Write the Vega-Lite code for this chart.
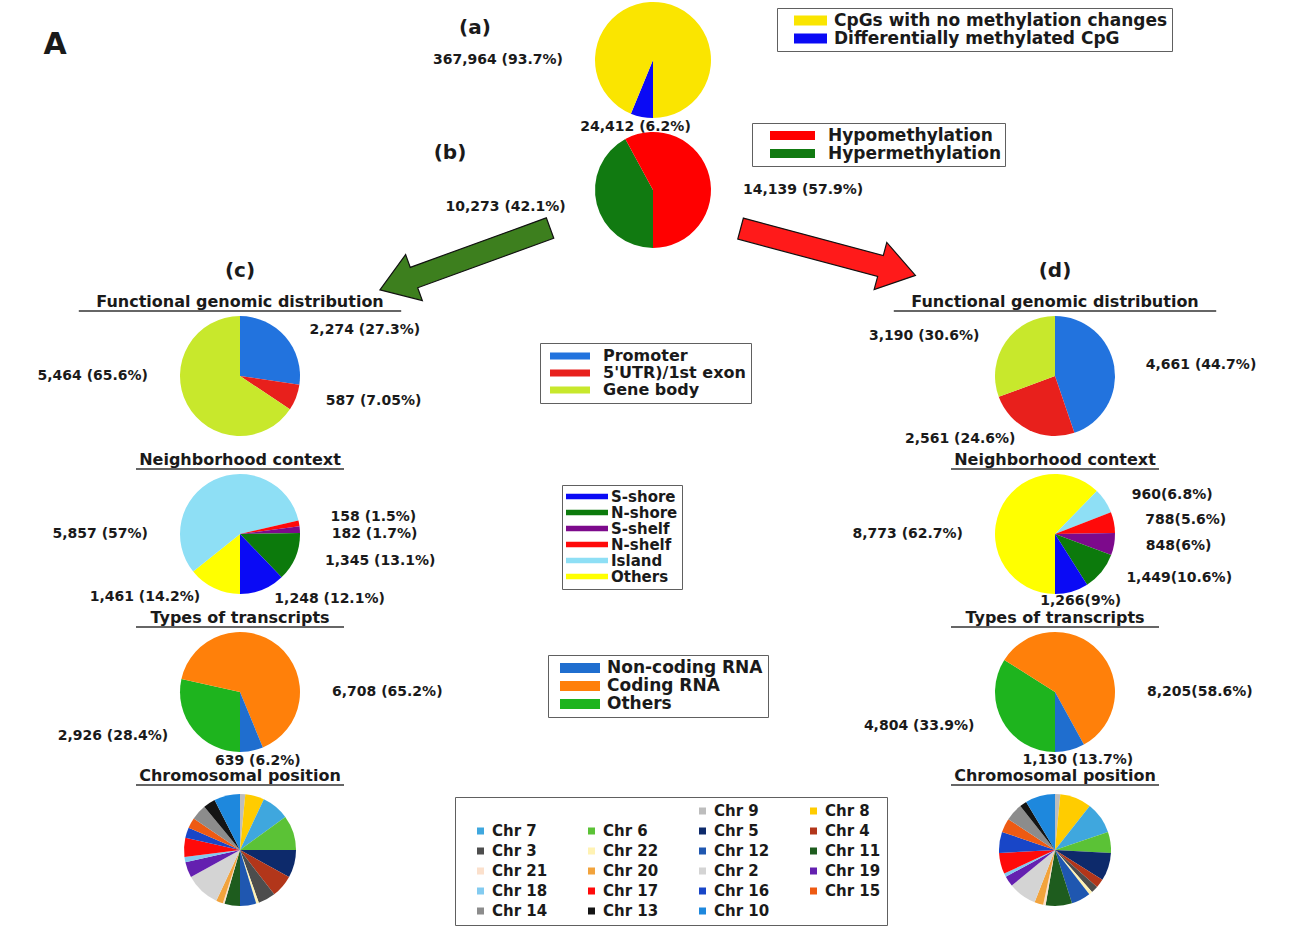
{
  "$schema": "https://vega.github.io/schema/vega-lite/v6.json",
  "width": 1306,
  "height": 928,
  "autosize": {"type": "none"},
  "padding": 0,
  "background": "white",
  "config": {
    "view": {"stroke": null},
    "text": {"font": "DejaVu Sans", "fontWeight": "bold", "fontSize": 14, "color": "#1a1a1a"},
    "legend": {"labelFont": "DejaVu Sans", "labelFontWeight": "bold", "labelColor": "#1a1a1a", "strokeColor": "#606060", "fillColor": "white", "labelLimit": 600, "symbolStrokeWidth": 0, "orient": "none"}
  },
  "datasets": {
    "pies": [
      {"panel": "(a)", "level": "(a)", "category": "Differentially methylated CpG", "count": 24412, "label": "24,412 (6.2%)"},
      {"panel": "(a)", "level": "(a)", "category": "CpGs with no methylation changes", "count": 367964, "label": "367,964 (93.7%)"},
      {"panel": "(b)", "level": "(b)", "category": "Hypermethylation", "count": 10273, "label": "10,273 (42.1%)"},
      {"panel": "(b)", "level": "(b)", "category": "Hypomethylation", "count": 14139, "label": "14,139 (57.9%)"},
      {"panel": "(c)", "level": "Functional genomic distribution", "category": "Promoter", "count": 2274, "label": "2,274 (27.3%)"},
      {"panel": "(c)", "level": "Functional genomic distribution", "category": "5'UTR)/1st exon", "count": 587, "label": "587 (7.05%)"},
      {"panel": "(c)", "level": "Functional genomic distribution", "category": "Gene body", "count": 5464, "label": "5,464 (65.6%)"},
      {"panel": "(d)", "level": "Functional genomic distribution", "category": "Promoter", "count": 4661, "label": "4,661 (44.7%)"},
      {"panel": "(d)", "level": "Functional genomic distribution", "category": "5'UTR)/1st exon", "count": 2561, "label": "2,561 (24.6%)"},
      {"panel": "(d)", "level": "Functional genomic distribution", "category": "Gene body", "count": 3190, "label": "3,190 (30.6%)"},
      {"panel": "(c)", "level": "Neighborhood context", "category": "Others", "count": 1461, "label": "1,461 (14.2%)"},
      {"panel": "(c)", "level": "Neighborhood context", "category": "Island", "count": 5857, "label": "5,857 (57%)"},
      {"panel": "(c)", "level": "Neighborhood context", "category": "N-shelf", "count": 158, "label": "158 (1.5%)"},
      {"panel": "(c)", "level": "Neighborhood context", "category": "S-shelf", "count": 182, "label": "182 (1.7%)"},
      {"panel": "(c)", "level": "Neighborhood context", "category": "N-shore", "count": 1345, "label": "1,345 (13.1%)"},
      {"panel": "(c)", "level": "Neighborhood context", "category": "S-shore", "count": 1248, "label": "1,248 (12.1%)"},
      {"panel": "(d)", "level": "Neighborhood context", "category": "Others", "count": 8773, "label": "8,773 (62.7%)"},
      {"panel": "(d)", "level": "Neighborhood context", "category": "Island", "count": 960, "label": "960(6.8%)"},
      {"panel": "(d)", "level": "Neighborhood context", "category": "N-shelf", "count": 788, "label": "788(5.6%)"},
      {"panel": "(d)", "level": "Neighborhood context", "category": "S-shelf", "count": 848, "label": "848(6%)"},
      {"panel": "(d)", "level": "Neighborhood context", "category": "N-shore", "count": 1449, "label": "1,449(10.6%)"},
      {"panel": "(d)", "level": "Neighborhood context", "category": "S-shore", "count": 1266, "label": "1,266(9%)"},
      {"panel": "(c)", "level": "Types of transcripts", "category": "Others", "count": 2926, "label": "2,926 (28.4%)"},
      {"panel": "(c)", "level": "Types of transcripts", "category": "Coding RNA", "count": 6708, "label": "6,708 (65.2%)"},
      {"panel": "(c)", "level": "Types of transcripts", "category": "Non-coding RNA", "count": 639, "label": "639 (6.2%)"},
      {"panel": "(d)", "level": "Types of transcripts", "category": "Others", "count": 4804, "label": "4,804 (33.9%)"},
      {"panel": "(d)", "level": "Types of transcripts", "category": "Coding RNA", "count": 8205, "label": "8,205(58.6%)"},
      {"panel": "(d)", "level": "Types of transcripts", "category": "Non-coding RNA", "count": 1130, "label": "1,130 (13.7%)"},
      {"panel": "(c)", "level": "Chromosomal position", "category": "Chr 9", "count": 155},
      {"panel": "(c)", "level": "Chromosomal position", "category": "Chr 8", "count": 565},
      {"panel": "(c)", "level": "Chromosomal position", "category": "Chr 7", "count": 820},
      {"panel": "(c)", "level": "Chromosomal position", "category": "Chr 6", "count": 1030},
      {"panel": "(c)", "level": "Chromosomal position", "category": "Chr 5", "count": 820},
      {"panel": "(c)", "level": "Chromosomal position", "category": "Chr 4", "count": 670},
      {"panel": "(c)", "level": "Chromosomal position", "category": "Chr 3", "count": 515},
      {"panel": "(c)", "level": "Chromosomal position", "category": "Chr 22", "count": 80},
      {"panel": "(c)", "level": "Chromosomal position", "category": "Chr 12", "count": 480},
      {"panel": "(c)", "level": "Chromosomal position", "category": "Chr 11", "count": 460},
      {"panel": "(c)", "level": "Chromosomal position", "category": "Chr 21", "count": 50},
      {"panel": "(c)", "level": "Chromosomal position", "category": "Chr 20", "count": 205},
      {"panel": "(c)", "level": "Chromosomal position", "category": "Chr 2", "count": 1030},
      {"panel": "(c)", "level": "Chromosomal position", "category": "Chr 19", "count": 460},
      {"panel": "(c)", "level": "Chromosomal position", "category": "Chr 18", "count": 155},
      {"panel": "(c)", "level": "Chromosomal position", "category": "Chr 17", "count": 565},
      {"panel": "(c)", "level": "Chromosomal position", "category": "Chr 16", "count": 310},
      {"panel": "(c)", "level": "Chromosomal position", "category": "Chr 15", "count": 310},
      {"panel": "(c)", "level": "Chromosomal position", "category": "Chr 14", "count": 460},
      {"panel": "(c)", "level": "Chromosomal position", "category": "Chr 13", "count": 360},
      {"panel": "(c)", "level": "Chromosomal position", "category": "Chr 10", "count": 770},
      {"panel": "(d)", "level": "Chromosomal position", "category": "Chr 9", "count": 212},
      {"panel": "(d)", "level": "Chromosomal position", "category": "Chr 8", "count": 1273},
      {"panel": "(d)", "level": "Chromosomal position", "category": "Chr 7", "count": 1273},
      {"panel": "(d)", "level": "Chromosomal position", "category": "Chr 6", "count": 848},
      {"panel": "(d)", "level": "Chromosomal position", "category": "Chr 5", "count": 1131},
      {"panel": "(d)", "level": "Chromosomal position", "category": "Chr 4", "count": 354},
      {"panel": "(d)", "level": "Chromosomal position", "category": "Chr 3", "count": 283},
      {"panel": "(d)", "level": "Chromosomal position", "category": "Chr 22", "count": 141},
      {"panel": "(d)", "level": "Chromosomal position", "category": "Chr 12", "count": 778},
      {"panel": "(d)", "level": "Chromosomal position", "category": "Chr 11", "count": 1060},
      {"panel": "(d)", "level": "Chromosomal position", "category": "Chr 21", "count": 99},
      {"panel": "(d)", "level": "Chromosomal position", "category": "Chr 20", "count": 354},
      {"panel": "(d)", "level": "Chromosomal position", "category": "Chr 2", "count": 1131},
      {"panel": "(d)", "level": "Chromosomal position", "category": "Chr 19", "count": 424},
      {"panel": "(d)", "level": "Chromosomal position", "category": "Chr 18", "count": 141},
      {"panel": "(d)", "level": "Chromosomal position", "category": "Chr 17", "count": 848},
      {"panel": "(d)", "level": "Chromosomal position", "category": "Chr 16", "count": 848},
      {"panel": "(d)", "level": "Chromosomal position", "category": "Chr 15", "count": 566},
      {"panel": "(d)", "level": "Chromosomal position", "category": "Chr 14", "count": 707},
      {"panel": "(d)", "level": "Chromosomal position", "category": "Chr 13", "count": 283},
      {"panel": "(d)", "level": "Chromosomal position", "category": "Chr 10", "count": 1202}
    ]
  },
  "resolve": {"scale": {"color": "independent", "theta": "independent"}},
  "layer": [
    {
      "data": {"name": "pies"},
      "transform": [{"filter": "datum.panel == '(a)'"}, {"window": [{"op": "row_number", "as": "slice"}]}],
      "encoding": {
        "y": {"field": "level", "type": "nominal", "axis": null, "scale": {"type": "point", "domain": ["(a)", "(b)", "Functional genomic distribution", "Neighborhood context", "Types of transcripts", "Chromosomal position"], "range": [60, 850], "padding": 0}},
        "theta": {"field": "count", "type": "quantitative", "stack": "normalize", "scale": {"range": [3.14159, 9.42478]}},
        "order": {"field": "slice", "type": "quantitative"}
      },
      "layer": [
        {
          "mark": {"type": "arc", "radius": 58},
          "encoding": {
            "color": {"field": "category", "type": "nominal", "scale": {"domain": ["CpGs with no methylation changes", "Differentially methylated CpG"], "range": ["#FAE500", "#0A0AF5"]},
              "legend": {"title": null, "orient": "none", "legendX": 777, "legendY": 8, "symbolType": "M-1,-0.3H1V0.3H-1Z", "symbolSize": 1089, "symbolOffset": 13, "labelOffset": 7, "labelFontSize": 17, "clipHeight": 17, "rowPadding": 0, "padding": 4}}
          }
        },
        {
          "mark": {"type": "text",
            "dx": {"expr": "90*sin((datum.count_end-datum.count_start)>0.5?3*PI/2:PI*(1+datum.count_start+datum.count_end))"},
            "dy": {"expr": "-68*cos((datum.count_end-datum.count_start)>0.5?3*PI/2:PI*(1+datum.count_start+datum.count_end))"},
            "align": {"expr": "abs(sin((datum.count_end-datum.count_start)>0.5?3*PI/2:PI*(1+datum.count_start+datum.count_end)))<0.3?'center':(sin((datum.count_end-datum.count_start)>0.5?3*PI/2:PI*(1+datum.count_start+datum.count_end))>0?'left':'right')"}},
          "encoding": {
            "detail": {"field": "category", "type": "nominal"},
            "text": {"field": "label", "type": "nominal"}
          }
        }
      ]
    },
    {
      "data": {"name": "pies"},
      "transform": [{"filter": "datum.panel == '(b)'"}, {"window": [{"op": "row_number", "as": "slice"}]}],
      "encoding": {
        "y": {"field": "level", "type": "nominal", "axis": null, "scale": {"type": "point", "domain": ["(a)", "(b)", "Functional genomic distribution", "Neighborhood context", "Types of transcripts", "Chromosomal position"], "range": [60, 850], "padding": 0}},
        "theta": {"field": "count", "type": "quantitative", "stack": "normalize", "scale": {"range": [3.14159, 9.42478]}},
        "order": {"field": "slice", "type": "quantitative"}
      },
      "layer": [
        {
          "mark": {"type": "arc", "radius": 58, "yOffset": -28},
          "encoding": {
            "color": {"field": "category", "type": "nominal", "scale": {"domain": ["Hypomethylation", "Hypermethylation"], "range": ["#FF0000", "#117A11"]},
              "legend": {"title": null, "orient": "none", "legendX": 752, "legendY": 123, "symbolType": "M-1,-0.2H1V0.2H-1Z", "symbolSize": 2025, "symbolOffset": 14, "labelOffset": 13, "labelFontSize": 17, "clipHeight": 17, "rowPadding": 0, "padding": 4}}
          }
        },
        {
          "mark": {"type": "text", "yOffset": -28,
            "dx": {"expr": "90*sin((datum.count_end-datum.count_start)>0.5?(sin(PI*(1+datum.count_start+datum.count_end))>=0?PI/2:3*PI/2):PI*(1+datum.count_start+datum.count_end))"},
            "dy": {"expr": "-68*cos((datum.count_end-datum.count_start)>0.5?(sin(PI*(1+datum.count_start+datum.count_end))>=0?PI/2:3*PI/2):PI*(1+datum.count_start+datum.count_end))"},
            "align": {"expr": "abs(sin((datum.count_end-datum.count_start)>0.5?(sin(PI*(1+datum.count_start+datum.count_end))>=0?PI/2:3*PI/2):PI*(1+datum.count_start+datum.count_end)))<0.3?'center':(sin((datum.count_end-datum.count_start)>0.5?(sin(PI*(1+datum.count_start+datum.count_end))>=0?PI/2:3*PI/2):PI*(1+datum.count_start+datum.count_end))>0?'left':'right')"}},
          "encoding": {
            "detail": {"field": "category", "type": "nominal"},
            "text": {"field": "label", "type": "nominal"}
          }
        }
      ]
    },
    {
      "data": {"name": "pies"},
      "transform": [{"filter": "datum.level == 'Functional genomic distribution'"}],
      "encoding": {
        "x": {"field": "panel", "type": "nominal", "axis": null, "scale": {"type": "point", "domain": ["(c)", "(d)"], "range": [240, 1055], "padding": 0}},
        "y": {"field": "level", "type": "nominal", "axis": null, "scale": {"type": "point", "domain": ["(a)", "(b)", "Functional genomic distribution", "Neighborhood context", "Types of transcripts", "Chromosomal position"], "range": [60, 850], "padding": 0}},
        "theta": {"field": "count", "type": "quantitative", "stack": "normalize", "scale": {"range": [0, 6.28318]}},
        "order": {"field": "slice", "type": "quantitative"}
      },
      "layer": [
        {
          "transform": [{"filter": "datum.panel == '(c)'"}, {"window": [{"op": "row_number", "as": "slice"}]}],
          "mark": {"type": "arc", "radius": 60},
          "encoding": {
            "color": {"field": "category", "type": "nominal", "scale": {"domain": ["Promoter", "5'UTR)/1st exon", "Gene body"], "range": ["#2273DE", "#E8201C", "#C8E82C"]},
              "legend": {"title": null, "orient": "none", "legendX": 540, "legendY": 343, "symbolType": "M-1,-0.18H1V0.18H-1Z", "symbolSize": 1600, "symbolOffset": 5, "labelOffset": 13, "labelFontSize": 16, "clipHeight": 16, "rowPadding": 1, "padding": 5}}
          }
        },
        {
          "transform": [{"filter": "datum.panel == '(d)'"}, {"window": [{"op": "row_number", "as": "slice"}]}],
          "mark": {"type": "arc", "radius": 60},
          "encoding": {
            "color": {"field": "category", "type": "nominal", "scale": {"domain": ["Promoter", "5'UTR)/1st exon", "Gene body"], "range": ["#2273DE", "#E8201C", "#C8E82C"]},
              "legend": {"title": null, "orient": "none", "legendX": 540, "legendY": 343, "symbolType": "M-1,-0.18H1V0.18H-1Z", "symbolSize": 1600, "symbolOffset": 5, "labelOffset": 13, "labelFontSize": 16, "clipHeight": 16, "rowPadding": 1, "padding": 5}}
          }
        },
        {
          "transform": [{"filter": "datum.panel == '(c)'"}, {"window": [{"op": "row_number", "as": "slice"}]}],
          "mark": {"type": "text",
            "dx": {"expr": "92*sin((datum.count_end-datum.count_start)>0.5?(sin(PI*(datum.count_start+datum.count_end))>=0?PI/2:3*PI/2):PI*(datum.count_start+datum.count_end))"},
            "dy": {"expr": "-70*cos((datum.count_end-datum.count_start)>0.5?(sin(PI*(datum.count_start+datum.count_end))>=0?PI/2:3*PI/2):PI*(datum.count_start+datum.count_end))"},
            "align": {"expr": "abs(sin((datum.count_end-datum.count_start)>0.5?(sin(PI*(datum.count_start+datum.count_end))>=0?PI/2:3*PI/2):PI*(datum.count_start+datum.count_end)))<0.3?'center':(sin((datum.count_end-datum.count_start)>0.5?(sin(PI*(datum.count_start+datum.count_end))>=0?PI/2:3*PI/2):PI*(datum.count_start+datum.count_end))>0?'left':'right')"}},
          "encoding": {"detail": {"field": "category", "type": "nominal"}, "text": {"field": "label", "type": "nominal"}}
        },
        {
          "transform": [{"filter": "datum.panel == '(d)'"}, {"window": [{"op": "row_number", "as": "slice"}]}],
          "mark": {"type": "text",
            "dx": {"expr": "92*sin((datum.count_end-datum.count_start)>0.5?(sin(PI*(datum.count_start+datum.count_end))>=0?PI/2:3*PI/2):PI*(datum.count_start+datum.count_end))"},
            "dy": {"expr": "-70*cos((datum.count_end-datum.count_start)>0.5?(sin(PI*(datum.count_start+datum.count_end))>=0?PI/2:3*PI/2):PI*(datum.count_start+datum.count_end))"},
            "align": {"expr": "abs(sin((datum.count_end-datum.count_start)>0.5?(sin(PI*(datum.count_start+datum.count_end))>=0?PI/2:3*PI/2):PI*(datum.count_start+datum.count_end)))<0.3?'center':(sin((datum.count_end-datum.count_start)>0.5?(sin(PI*(datum.count_start+datum.count_end))>=0?PI/2:3*PI/2):PI*(datum.count_start+datum.count_end))>0?'left':'right')"}},
          "encoding": {"detail": {"field": "category", "type": "nominal"}, "text": {"field": "label", "type": "nominal"}}
        }
      ]
    },
    {
      "data": {"name": "pies"},
      "transform": [{"filter": "datum.level == 'Neighborhood context'"}],
      "encoding": {
        "x": {"field": "panel", "type": "nominal", "axis": null, "scale": {"type": "point", "domain": ["(c)", "(d)"], "range": [240, 1055], "padding": 0}},
        "y": {"field": "level", "type": "nominal", "axis": null, "scale": {"type": "point", "domain": ["(a)", "(b)", "Functional genomic distribution", "Neighborhood context", "Types of transcripts", "Chromosomal position"], "range": [60, 850], "padding": 0}},
        "theta": {"field": "count", "type": "quantitative", "stack": "normalize", "scale": {"range": [3.14159, 9.42478]}},
        "order": {"field": "slice", "type": "quantitative"}
      },
      "layer": [
        {
          "transform": [{"filter": "datum.panel == '(c)'"}, {"window": [{"op": "row_number", "as": "slice"}]}],
          "mark": {"type": "arc", "radius": 60},
          "encoding": {
            "color": {"field": "category", "type": "nominal", "scale": {"domain": ["S-shore", "N-shore", "S-shelf", "N-shelf", "Island", "Others"], "range": ["#0A0AF5", "#0C7A0C", "#7D0A8C", "#FF0A0A", "#8EDFF5", "#FFFF00"]},
              "legend": {"title": null, "orient": "none", "legendX": 562, "legendY": 485, "symbolType": "M-1,-0.13H1V0.13H-1Z", "symbolSize": 1764, "symbolOffset": 0, "labelOffset": 3, "labelFontSize": 15, "clipHeight": 15, "rowPadding": 0, "padding": 4}}
          }
        },
        {
          "transform": [{"filter": "datum.panel == '(d)'"}, {"window": [{"op": "row_number", "as": "slice"}]}],
          "mark": {"type": "arc", "radius": 60},
          "encoding": {
            "color": {"field": "category", "type": "nominal", "scale": {"domain": ["S-shore", "N-shore", "S-shelf", "N-shelf", "Island", "Others"], "range": ["#0A0AF5", "#0C7A0C", "#7D0A8C", "#FF0A0A", "#8EDFF5", "#FFFF00"]},
              "legend": {"title": null, "orient": "none", "legendX": 562, "legendY": 485, "symbolType": "M-1,-0.13H1V0.13H-1Z", "symbolSize": 1764, "symbolOffset": 0, "labelOffset": 3, "labelFontSize": 15, "clipHeight": 15, "rowPadding": 0, "padding": 4}}
          }
        },
        {
          "transform": [{"filter": "datum.panel == '(c)'"}, {"window": [{"op": "row_number", "as": "slice"}]}],
          "mark": {"type": "text",
            "dx": {"expr": "92*sin((datum.count_end-datum.count_start)>0.5?(sin(PI*(1+datum.count_start+datum.count_end))>=0?PI/2:3*PI/2):PI*(1+datum.count_start+datum.count_end))"},
            "dy": {"expr": "-70*cos((datum.count_end-datum.count_start)>0.5?(sin(PI*(1+datum.count_start+datum.count_end))>=0?PI/2:3*PI/2):PI*(1+datum.count_start+datum.count_end))+((datum.count_end-datum.count_start)<0.0165?-5:((datum.count_end-datum.count_start)<0.02?5:0))"},
            "align": {"expr": "abs(sin((datum.count_end-datum.count_start)>0.5?(sin(PI*(1+datum.count_start+datum.count_end))>=0?PI/2:3*PI/2):PI*(1+datum.count_start+datum.count_end)))<0.3?'center':(sin((datum.count_end-datum.count_start)>0.5?(sin(PI*(1+datum.count_start+datum.count_end))>=0?PI/2:3*PI/2):PI*(1+datum.count_start+datum.count_end))>0?'left':'right')"}},
          "encoding": {"detail": {"field": "category", "type": "nominal"}, "text": {"field": "label", "type": "nominal"}}
        },
        {
          "transform": [{"filter": "datum.panel == '(d)'"}, {"window": [{"op": "row_number", "as": "slice"}]}],
          "mark": {"type": "text",
            "dx": {"expr": "92*sin((datum.count_end-datum.count_start)>0.5?(sin(PI*(1+datum.count_start+datum.count_end))>=0?PI/2:3*PI/2):PI*(1+datum.count_start+datum.count_end))"},
            "dy": {"expr": "-70*cos((datum.count_end-datum.count_start)>0.5?(sin(PI*(1+datum.count_start+datum.count_end))>=0?PI/2:3*PI/2):PI*(1+datum.count_start+datum.count_end))"},
            "align": {"expr": "abs(sin((datum.count_end-datum.count_start)>0.5?(sin(PI*(1+datum.count_start+datum.count_end))>=0?PI/2:3*PI/2):PI*(1+datum.count_start+datum.count_end)))<0.3?'center':(sin((datum.count_end-datum.count_start)>0.5?(sin(PI*(1+datum.count_start+datum.count_end))>=0?PI/2:3*PI/2):PI*(1+datum.count_start+datum.count_end))>0?'left':'right')"}},
          "encoding": {"detail": {"field": "category", "type": "nominal"}, "text": {"field": "label", "type": "nominal"}}
        }
      ]
    },
    {
      "data": {"name": "pies"},
      "transform": [{"filter": "datum.level == 'Types of transcripts'"}],
      "encoding": {
        "x": {"field": "panel", "type": "nominal", "axis": null, "scale": {"type": "point", "domain": ["(c)", "(d)"], "range": [240, 1055], "padding": 0}},
        "y": {"field": "level", "type": "nominal", "axis": null, "scale": {"type": "point", "domain": ["(a)", "(b)", "Functional genomic distribution", "Neighborhood context", "Types of transcripts", "Chromosomal position"], "range": [60, 850], "padding": 0}},
        "theta": {"field": "count", "type": "quantitative", "stack": "normalize", "scale": {"range": [3.14159, 9.42478]}},
        "order": {"field": "slice", "type": "quantitative"}
      },
      "layer": [
        {
          "transform": [{"filter": "datum.panel == '(c)'"}, {"window": [{"op": "row_number", "as": "slice"}]}],
          "mark": {"type": "arc", "radius": 60},
          "encoding": {
            "color": {"field": "category", "type": "nominal", "scale": {"domain": ["Non-coding RNA", "Coding RNA", "Others"], "range": ["#1F6ECF", "#FF800A", "#1EB41E"]},
              "legend": {"title": null, "orient": "none", "legendX": 548, "legendY": 655, "symbolType": "M-1,-0.25H1V0.25H-1Z", "symbolSize": 1600, "symbolOffset": 7, "labelOffset": 7, "labelFontSize": 17, "clipHeight": 16, "rowPadding": 1, "padding": 5}}
          }
        },
        {
          "transform": [{"filter": "datum.panel == '(d)'"}, {"window": [{"op": "row_number", "as": "slice"}]}],
          "mark": {"type": "arc", "radius": 60},
          "encoding": {
            "color": {"field": "category", "type": "nominal", "scale": {"domain": ["Non-coding RNA", "Coding RNA", "Others"], "range": ["#1F6ECF", "#FF800A", "#1EB41E"]},
              "legend": {"title": null, "orient": "none", "legendX": 548, "legendY": 655, "symbolType": "M-1,-0.25H1V0.25H-1Z", "symbolSize": 1600, "symbolOffset": 7, "labelOffset": 7, "labelFontSize": 17, "clipHeight": 16, "rowPadding": 1, "padding": 5}}
          }
        },
        {
          "transform": [{"filter": "datum.panel == '(c)'"}, {"window": [{"op": "row_number", "as": "slice"}]}],
          "mark": {"type": "text",
            "dx": {"expr": "92*sin((datum.count_end-datum.count_start)>0.5?(sin(PI*(1+datum.count_start+datum.count_end))>=0?PI/2:3*PI/2):PI*(1+datum.count_start+datum.count_end))"},
            "dy": {"expr": "-70*cos((datum.count_end-datum.count_start)>0.5?(sin(PI*(1+datum.count_start+datum.count_end))>=0?PI/2:3*PI/2):PI*(1+datum.count_start+datum.count_end))"},
            "align": {"expr": "abs(sin((datum.count_end-datum.count_start)>0.5?(sin(PI*(1+datum.count_start+datum.count_end))>=0?PI/2:3*PI/2):PI*(1+datum.count_start+datum.count_end)))<0.3?'center':(sin((datum.count_end-datum.count_start)>0.5?(sin(PI*(1+datum.count_start+datum.count_end))>=0?PI/2:3*PI/2):PI*(1+datum.count_start+datum.count_end))>0?'left':'right')"}},
          "encoding": {"detail": {"field": "category", "type": "nominal"}, "text": {"field": "label", "type": "nominal"}}
        },
        {
          "transform": [{"filter": "datum.panel == '(d)'"}, {"window": [{"op": "row_number", "as": "slice"}]}],
          "mark": {"type": "text",
            "dx": {"expr": "92*sin((datum.count_end-datum.count_start)>0.5?(sin(PI*(1+datum.count_start+datum.count_end))>=0?PI/2:3*PI/2):PI*(1+datum.count_start+datum.count_end))"},
            "dy": {"expr": "-70*cos((datum.count_end-datum.count_start)>0.5?(sin(PI*(1+datum.count_start+datum.count_end))>=0?PI/2:3*PI/2):PI*(1+datum.count_start+datum.count_end))"},
            "align": {"expr": "abs(sin((datum.count_end-datum.count_start)>0.5?(sin(PI*(1+datum.count_start+datum.count_end))>=0?PI/2:3*PI/2):PI*(1+datum.count_start+datum.count_end)))<0.3?'center':(sin((datum.count_end-datum.count_start)>0.5?(sin(PI*(1+datum.count_start+datum.count_end))>=0?PI/2:3*PI/2):PI*(1+datum.count_start+datum.count_end))>0?'left':'right')"}},
          "encoding": {"detail": {"field": "category", "type": "nominal"}, "text": {"field": "label", "type": "nominal"}}
        }
      ]
    },
    {
      "data": {"name": "pies"},
      "transform": [{"filter": "datum.level == 'Chromosomal position'"}],
      "encoding": {
        "x": {"field": "panel", "type": "nominal", "axis": null, "scale": {"type": "point", "domain": ["(c)", "(d)"], "range": [240, 1055], "padding": 0}},
        "y": {"field": "level", "type": "nominal", "axis": null, "scale": {"type": "point", "domain": ["(a)", "(b)", "Functional genomic distribution", "Neighborhood context", "Types of transcripts", "Chromosomal position"], "range": [60, 850], "padding": 0}},
        "theta": {"field": "count", "type": "quantitative", "stack": "normalize", "scale": {"range": [0, 6.28318]}},
        "order": {"field": "slice", "type": "quantitative"}
      },
      "layer": [
        {
          "transform": [{"filter": "datum.panel == '(c)'"}, {"window": [{"op": "row_number", "as": "slice"}]}],
          "mark": {"type": "arc", "radius": 56},
          "encoding": {
            "color": {"field": "category", "type": "nominal",
              "scale": {"domain": ["", " ", "Chr 9", "Chr 8", "Chr 7", "Chr 6", "Chr 5", "Chr 4", "Chr 3", "Chr 22", "Chr 12", "Chr 11", "Chr 21", "Chr 20", "Chr 2", "Chr 19", "Chr 18", "Chr 17", "Chr 16", "Chr 15", "Chr 14", "Chr 13", "Chr 10"],
                "range": ["rgba(0,0,0,0)", "rgba(0,0,0,0)", "#BDBDBD", "#FFCC00", "#3FA7DE", "#5BC236", "#0D2A6B", "#B2361A", "#4D4D4D", "#FFF2B3", "#1F57B0", "#1E5C1E", "#FBE0CC", "#F2A33C", "#D4D4D4", "#6420B0", "#83CBF0", "#FF0A0A", "#1846C8", "#EE5A12", "#8C8C8C", "#141414", "#1E88DD"]},
              "legend": {"title": null, "orient": "none", "legendX": 455, "legendY": 797, "columns": 4, "direction": "horizontal", "symbolType": "square", "symbolSize": 49, "symbolOffset": 12, "labelOffset": 4, "labelFontSize": 15, "clipHeight": 16, "rowPadding": 4, "columnPadding": 24, "gridAlign": "all", "padding": 6}}
          }
        },
        {
          "transform": [{"filter": "datum.panel == '(d)'"}, {"window": [{"op": "row_number", "as": "slice"}]}],
          "mark": {"type": "arc", "radius": 56},
          "encoding": {
            "color": {"field": "category", "type": "nominal",
              "scale": {"domain": ["", " ", "Chr 9", "Chr 8", "Chr 7", "Chr 6", "Chr 5", "Chr 4", "Chr 3", "Chr 22", "Chr 12", "Chr 11", "Chr 21", "Chr 20", "Chr 2", "Chr 19", "Chr 18", "Chr 17", "Chr 16", "Chr 15", "Chr 14", "Chr 13", "Chr 10"],
                "range": ["rgba(0,0,0,0)", "rgba(0,0,0,0)", "#BDBDBD", "#FFCC00", "#3FA7DE", "#5BC236", "#0D2A6B", "#B2361A", "#4D4D4D", "#FFF2B3", "#1F57B0", "#1E5C1E", "#FBE0CC", "#F2A33C", "#D4D4D4", "#6420B0", "#83CBF0", "#FF0A0A", "#1846C8", "#EE5A12", "#8C8C8C", "#141414", "#1E88DD"]},
              "legend": {"title": null, "orient": "none", "legendX": 455, "legendY": 797, "columns": 4, "direction": "horizontal", "symbolType": "square", "symbolSize": 49, "symbolOffset": 12, "labelOffset": 4, "labelFontSize": 15, "clipHeight": 16, "rowPadding": 4, "columnPadding": 24, "gridAlign": "all", "padding": 6}}
          }
        }
      ]
    },
    {
      "data": {"name": "pies"},
      "transform": [{"filter": "datum.panel == '(c)' || datum.panel == '(d)'"}, {"aggregate": [{"op": "count", "as": "n"}], "groupby": ["panel", "level"]}],
      "encoding": {
        "x": {"field": "panel", "type": "nominal", "axis": null, "scale": {"type": "point", "domain": ["(c)", "(d)"], "range": [240, 1055], "padding": 0}},
        "y": {"field": "level", "type": "nominal", "axis": null, "scale": {"type": "point", "domain": ["(a)", "(b)", "Functional genomic distribution", "Neighborhood context", "Types of transcripts", "Chromosomal position"], "range": [60, 850], "padding": 0}}
      },
      "layer": [
        {"mark": {"type": "text", "dy": -74, "fontSize": 16}, "encoding": {"text": {"field": "level", "type": "nominal"}}},
        {"mark": {"type": "rule", "yOffset": -65, "xOffset": {"expr": "-5.2*length(datum.level)"}, "x2Offset": {"expr": "5.2*length(datum.level)"}, "strokeWidth": 1.5, "color": "#333333"}, "encoding": {"x2": {"field": "panel"}}}
      ]
    },
    {
      "data": {"name": "pies"},
      "transform": [{"filter": "datum.panel == '(c)' || datum.panel == '(d)'"}, {"aggregate": [{"op": "count", "as": "n"}], "groupby": ["panel"]}],
      "mark": {"type": "text", "dy": -105, "fontSize": 20},
      "encoding": {
        "x": {"field": "panel", "type": "nominal", "axis": null, "scale": {"type": "point", "domain": ["(c)", "(d)"], "range": [240, 1055], "padding": 0}},
        "y": {"datum": "Functional genomic distribution", "type": "nominal", "axis": null, "scale": {"type": "point", "domain": ["(a)", "(b)", "Functional genomic distribution", "Neighborhood context", "Types of transcripts", "Chromosomal position"], "range": [60, 850], "padding": 0}},
        "text": {"field": "panel", "type": "nominal"}
      }
    },
    {
      "data": {"name": "pies"},
      "transform": [{"filter": "datum.panel == '(a)'"}, {"aggregate": [{"op": "count", "as": "n"}], "groupby": ["panel", "level"]}],
      "mark": {"type": "text", "dx": -178, "dy": -32, "fontSize": 20},
      "encoding": {
        "y": {"field": "level", "type": "nominal", "axis": null, "scale": {"type": "point", "domain": ["(a)", "(b)", "Functional genomic distribution", "Neighborhood context", "Types of transcripts", "Chromosomal position"], "range": [60, 850], "padding": 0}},
        "text": {"field": "panel", "type": "nominal"}
      }
    },
    {
      "data": {"name": "pies"},
      "transform": [{"filter": "datum.panel == '(b)'"}, {"aggregate": [{"op": "count", "as": "n"}], "groupby": ["panel", "level"]}],
      "mark": {"type": "text", "dx": -203, "dy": -65, "fontSize": 20},
      "encoding": {
        "y": {"field": "level", "type": "nominal", "axis": null, "scale": {"type": "point", "domain": ["(a)", "(b)", "Functional genomic distribution", "Neighborhood context", "Types of transcripts", "Chromosomal position"], "range": [60, 850], "padding": 0}},
        "text": {"field": "panel", "type": "nominal"}
      }
    },
    {
      "data": {"values": [{"figure": "A"}]},
      "mark": {"type": "text", "dx": -185, "dy": -15, "fontSize": 30},
      "encoding": {
        "x": {"datum": "(c)", "type": "nominal", "axis": null, "scale": {"type": "point", "domain": ["(c)", "(d)"], "range": [240, 1055], "padding": 0}},
        "y": {"datum": "(a)", "type": "nominal", "axis": null, "scale": {"type": "point", "domain": ["(a)", "(b)", "Functional genomic distribution", "Neighborhood context", "Types of transcripts", "Chromosomal position"], "range": [60, 850], "padding": 0}},
        "text": {"field": "figure", "type": "nominal"}
      }
    },
    {
      "data": {"values": [{"direction": "Hypermethylation"}]},
      "mark": {"type": "point", "shape": "M-1,-0.12L0.6,-0.12L0.6,-0.27L1,0L0.6,0.27L0.6,0.12L-1,0.12Z", "size": 32761, "angle": 160, "filled": true, "fill": "#3D7F1E", "stroke": "#111111", "strokeWidth": 1.2, "opacity": 1, "xOffset": -188, "yOffset": 41},
      "encoding": {
        "y": {"datum": "(b)", "type": "nominal", "axis": null, "scale": {"type": "point", "domain": ["(a)", "(b)", "Functional genomic distribution", "Neighborhood context", "Types of transcripts", "Chromosomal position"], "range": [60, 850], "padding": 0}}
      }
    },
    {
      "data": {"values": [{"direction": "Hypomethylation"}]},
      "mark": {"type": "point", "shape": "M-1,-0.12L0.6,-0.12L0.6,-0.27L1,0L0.6,0.27L0.6,0.12L-1,0.12Z", "size": 32761, "angle": 15, "filled": true, "fill": "#FF1A1A", "stroke": "#111111", "strokeWidth": 1.2, "opacity": 1, "xOffset": 175, "yOffset": 34},
      "encoding": {
        "y": {"datum": "(b)", "type": "nominal", "axis": null, "scale": {"type": "point", "domain": ["(a)", "(b)", "Functional genomic distribution", "Neighborhood context", "Types of transcripts", "Chromosomal position"], "range": [60, 850], "padding": 0}}
      }
    }
  ]
}
